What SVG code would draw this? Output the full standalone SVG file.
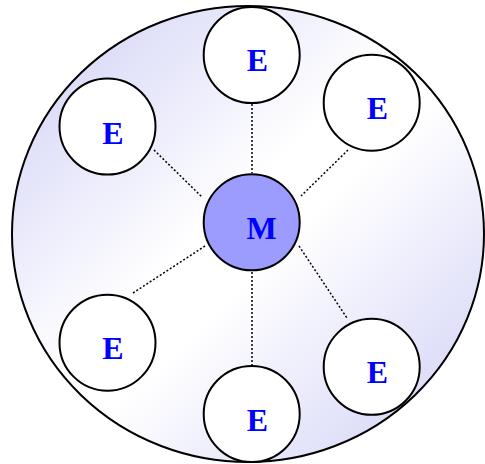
<svg xmlns="http://www.w3.org/2000/svg" width="485" height="464" viewBox="0 0 485 464">
<defs>
<linearGradient id="bg" x1="0" y1="0" x2="1" y2="1">
<stop offset="0" stop-color="#cdcdf6"/>
<stop offset="0.45" stop-color="#ffffff"/>
<stop offset="0.55" stop-color="#ffffff"/>
<stop offset="1" stop-color="#cdcdf6"/>
</linearGradient>
</defs>
<style>
.node{stroke:#000;stroke-width:2}
.e{fill:#fff}
.m{fill:#9c9cff}
.lbl{font-family:"Liberation Serif","Times New Roman",serif;font-weight:700;font-size:32px;fill:#0000ff;text-anchor:middle}
.conn line{stroke:#000;stroke-width:1.5;stroke-dasharray:2,2}
</style>
<g id="boundary">
<ellipse cx="248" cy="234" rx="236" ry="228" fill="url(#bg)" stroke="#000" stroke-width="2"/>
</g>
<g id="connectors" class="conn">
<line x1="252" y1="104" x2="252" y2="173"/>
<line x1="348" y1="150" x2="301" y2="196"/>
<line x1="154" y1="150" x2="202" y2="197"/>
<line x1="133" y1="293" x2="205" y2="246"/>
<line x1="299" y1="246" x2="347" y2="318"/>
<line x1="252" y1="272" x2="252" y2="365"/>
</g>
<g id="M">
<circle class="node m" cx="251.7" cy="222.3" r="48"/>
<text class="lbl" x="261.7" y="238.7">M</text>
</g>
<g id="E_top">
<circle class="node e" cx="251.7" cy="55" r="48"/>
<text class="lbl" x="257.3" y="71">E</text>
</g>
<g id="E_topright">
<circle class="node e" cx="371.7" cy="102.7" r="48"/>
<text class="lbl" x="377.3" y="119">E</text>
</g>
<g id="E_topleft">
<circle class="node e" cx="107.5" cy="126.5" r="48"/>
<text class="lbl" x="113" y="144">E</text>
</g>
<g id="E_bottomleft">
<circle class="node e" cx="107.5" cy="342.7" r="48"/>
<text class="lbl" x="113" y="359.3">E</text>
</g>
<g id="E_bottomright">
<circle class="node e" cx="371.7" cy="366.8" r="48"/>
<text class="lbl" x="377.3" y="383.3">E</text>
</g>
<g id="E_bottom">
<circle class="node e" cx="251.7" cy="414" r="48"/>
<text class="lbl" x="257.3" y="431">E</text>
</g>
</svg>
